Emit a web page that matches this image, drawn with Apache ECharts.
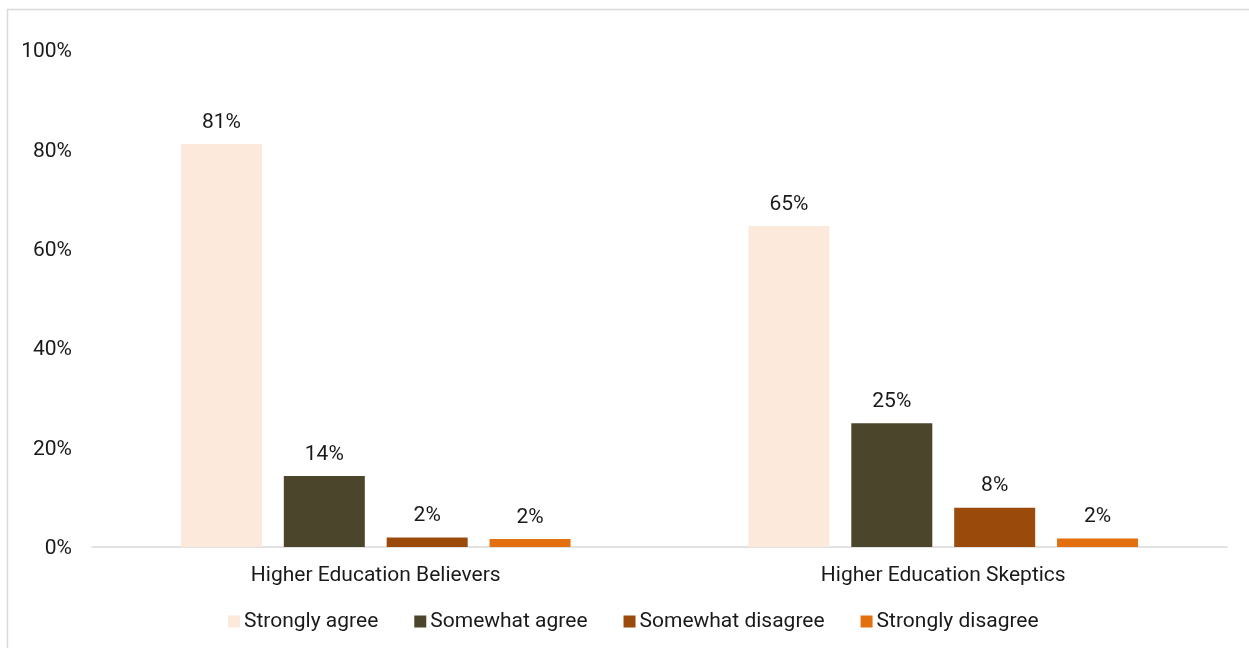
<!DOCTYPE html>
<html>
<head>
<meta charset="utf-8">
<script src="https://cdn.jsdelivr.net/npm/echarts@6/dist/echarts.min.js"></script>
<style>html,body{margin:0;padding:0;background:#fff;}#c{width:1249px;height:648px;}</style>
</head>
<body>
<div id="c"></div>
<script>
const categories = ["Higher Education Believers", "Higher Education Skeptics"];
const seriesNames = ["Strongly agree", "Somewhat agree", "Somewhat disagree", "Strongly disagree"];
const stronglyAgree = [81.1, 64.6];
const somewhatAgree = [14.3, 24.9];
const somewhatDisagree = [1.9, 7.9];
const stronglyDisagree = [1.6, 1.7];
const yTicks = [0, 20, 40, 60, 80, 100];
const colors = ["#FCE9DC", "#4B452C", "#9A4A0A", "#E36F0F"];

const values = [stronglyAgree, somewhatAgree, somewhatDisagree, stronglyDisagree];
const chart = echarts.init(document.getElementById('c'));
const font = 'Roboto';
chart.setOption({
  animation: false,
  graphic: [{
    type: 'rect', silent: true,
    shape: { x: 7.5, y: 9.5, width: 1400, height: 800 },
    style: { fill: 'none', stroke: '#d9d9d9', lineWidth: 1.5 }
  }],
  grid: { left: 92, right: 22, top: 50, bottom: 101 },
  legend: {
    top: 606, left: 223,
    itemWidth: 12, itemHeight: 12, itemGap: 36,
    icon: 'rect',
    textStyle: { fontFamily: font, fontSize: 21, color: '#1a1a1a', padding: [0, 0, 0, -1] },
    data: seriesNames
  },
  xAxis: {
    type: 'category', data: categories,
    axisLine: { lineStyle: { color: '#d9d9d9', width: 1.5 } },
    axisTick: { show: false },
    axisLabel: { fontFamily: font, fontSize: 21, color: '#1a1a1a', margin: 18 }
  },
  yAxis: {
    type: 'value', min: 0, max: 100, interval: 20,
    splitLine: { show: false },
    axisLine: { show: false }, axisTick: { show: false },
    axisLabel: { fontFamily: font, fontSize: 21, color: '#1a1a1a', margin: 20,
      rich: { t: { fontFamily: font, fontSize: 21, color: '#1a1a1a', padding: [4, 0, 0, 0] } },
      formatter: v => yTicks.includes(v) ? '{t|' + v + '%}' : '' }
  },
  series: seriesNames.map((n, i) => ({
    name: n, type: 'bar', data: values[i],
    barWidth: 81, barGap: '27%',
    itemStyle: { color: colors[i] },
    label: { show: true, position: 'top', distance: 11, fontFamily: font, fontSize: 21, color: '#1a1a1a',
      formatter: p => Math.round(p.value) + '%' }
  }))
});
</script>
</body>
</html>
